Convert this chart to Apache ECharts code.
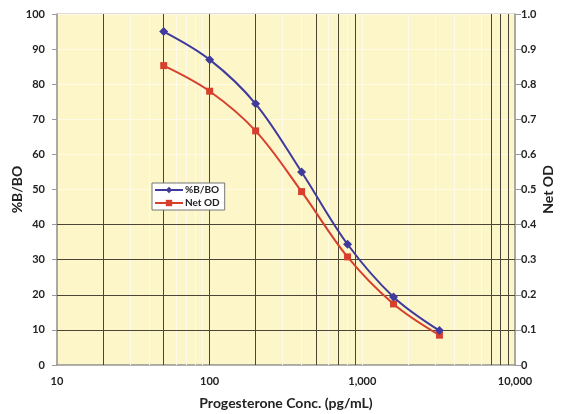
<!DOCTYPE html>
<html>
<head>
<meta charset="utf-8">
<script src="https://cdn.jsdelivr.net/npm/echarts@6/dist/echarts.min.js"></script>
<style>
html,body{margin:0;padding:0;background:#fff;}
#main{width:564px;height:414px;}
</style>
</head>
<body>
<div id="main"></div>
<script>
// concentrations (pg/mL)
var conc = [50, 100, 200, 400, 800, 1600, 3200];
// %B/B0
var bbo = [95, 87, 74.4, 55, 34.4, 19.4, 9.8];
// Net OD
var netOd = [0.853, 0.78, 0.667, 0.494, 0.308, 0.174, 0.085];
// grid lines as they show in the scan
var darkX = [20, 50, 100, 200, 500, 700, 900, 7000, 8000, 9000];
var lightX = [30, 40, 60, 70, 80, 90, 300, 400, 600, 800, 1000, 2000, 3000, 4000, 5000, 6000];
var darkY = [10, 20, 30, 40];

var chart = echarts.init(document.getElementById('main'));
var font = 'Lato, "Noto Sans", sans-serif';

function pairs(xs, ys){
    var out = [];
    for (var i = 0; i < xs.length; i++) out.push([xs[i], ys[i]]);
    return out;
}
function vLines(list){
    return list.map(function(v){ return {xAxis: v}; });
}
function hLines(list){
    return list.map(function(v){ return {yAxis: v}; });
}

chart.setOption({
    animation: false,
    grid: {
        left: 57, right: 49, top: 14, bottom: 49,
        outerBoundsMode: 'none',
        containLabel: false,
        show: true,
        backgroundColor: '#fcf6c8',
        borderColor: '#b8b8b0',
        borderWidth: 1
    },
    legend: {
        orient: 'vertical',
        left: 152, top: 183,
        z: 20,
        backgroundColor: '#fff',
        borderColor: '#777',
        borderWidth: 1,
        padding: [2, 5, 2, 2],
        itemGap: 3,
        itemWidth: 28,
        itemHeight: 8,
        textStyle: {fontFamily: font, fontSize: 10, fontWeight: 'bold', color: '#222', padding: [0, 0, 0, -3]},
        data: ['%B/BO', 'Net OD']
    },
    xAxis: {
        type: 'log',
        logBase: 10,
        min: 10, max: 10000,
        name: 'Progesterone Conc. (pg/mL)',
        nameLocation: 'middle',
        nameGap: 31,
        nameMoveOverlap: false,
        nameTextStyle: {fontFamily: font, fontSize: 14, fontWeight: 'bold', color: '#222'},
        axisLine: {lineStyle: {color: '#999', width: 1.5}},
        axisTick: {show: false},
        splitLine: {show: false},
        axisLabel: {
            fontFamily: font, fontSize: 11, fontWeight: 'bold', color: '#222', margin: 11,
            formatter: function(v){ return v.toLocaleString('en-US'); }
        }
    },
    yAxis: [{
        type: 'value',
        min: 0, max: 100, interval: 10,
        name: '%B/BO',
        nameLocation: 'middle',
        nameGap: 33,
        nameMoveOverlap: false,
        nameTextStyle: {fontFamily: font, fontSize: 14, fontWeight: 'bold', color: '#222'},
        axisLine: {show: true, lineStyle: {color: '#999', width: 1.5}},
        axisTick: {show: true, length: 5, lineStyle: {color: '#999'}},
        splitLine: {lineStyle: {color: '#fffbe6', width: 1}},
        axisLabel: {fontFamily: font, fontSize: 11, fontWeight: 'bold', color: '#222', margin: 12}
    }, {
        type: 'value',
        min: 0, max: 1, interval: 0.1,
        name: 'Net OD',
        nameLocation: 'middle',
        nameGap: 26,
        nameRotate: 90,
        nameMoveOverlap: false,
        nameTextStyle: {fontFamily: font, fontSize: 14, fontWeight: 'bold', color: '#222'},
        axisLine: {show: true, lineStyle: {color: '#999', width: 1.5}},
        axisTick: {show: true, length: 6, lineStyle: {color: '#999'}},
        splitLine: {show: false},
        axisLabel: {
            fontFamily: font, fontSize: 11, fontWeight: 'bold', color: '#222', margin: 6,
            formatter: function(v){ return v === 0 ? '0' : v.toFixed(1); }
        }
    }],
    series: [{
        name: 'grid',
        type: 'line',
        data: [],
        silent: true,
        z: 1,
        markLine: {
            silent: true, symbol: 'none', label: {show: false}, z: 1,
            lineStyle: {color: '#fffbea', type: 'solid', width: 1.2},
            data: vLines(lightX)
        }
    }, {
        name: 'gridDark',
        type: 'line',
        data: [],
        silent: true,
        z: 1,
        markLine: {
            silent: true, symbol: 'none', label: {show: false}, z: 1,
            lineStyle: {color: '#4a4535', type: 'solid', width: 1},
            data: vLines(darkX).concat(hLines(darkY))
        }
    }, {
        name: '%B/BO',
        type: 'line',
        smooth: 0.35,
        data: pairs(conc, bbo),
        symbol: 'diamond',
        symbolSize: 9,
        itemStyle: {color: '#3f3a9c'},
        lineStyle: {color: '#3f3a9c', width: 2},
        z: 5
    }, {
        name: 'Net OD',
        type: 'line',
        smooth: 0.35,
        yAxisIndex: 1,
        data: pairs(conc, netOd),
        symbol: 'rect',
        symbolSize: 7,
        itemStyle: {color: '#d8402e'},
        lineStyle: {color: '#d8402e', width: 2},
        z: 4
    }]
});
</script>
</body>
</html>
